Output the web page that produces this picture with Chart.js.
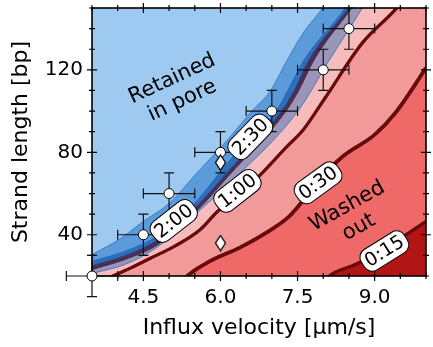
<!DOCTYPE html>
<html>
<head>
<meta charset="utf-8">
<script src="https://cdn.jsdelivr.net/npm/chart.js@4.4.0/dist/chart.umd.min.js"></script>
<style>
  html, body { margin: 0; padding: 0; background: #fff; }
</style>
</head>
<body>
<canvas id="flow" width="433" height="347"></canvas>
<script>
// measured retention limits
const velocity = [3.5, 4.5, 5.0, 6.0, 7.0, 8.0, 8.5];
const strandLen = [20, 40, 60, 80, 100, 120, 140];
const velErr = [0.5, 0.5, 0.5, 0.5, 0.5, 0.5, 0.5];
const lenErr = [10, 10, 10, 10, 10, 10, 10];

// single runs
const runVelocity = [6.0, 6.0];
const runLen = [75, 36];

// residence-time contour boundaries (velocity, length)
const retainX = [3.0, 3.5, 4.02, 4.49, 5.01, 5.56, 6.14, 6.61, 6.96, 7.28, 7.61, 7.99, 8.4, 12];
const retainY = [22, 30.3, 37.6, 46.3, 55.4, 70.5, 86.1, 100, 109.4, 123.8, 137.9, 150, 165, 300];
const blueX = [3.0, 3.5, 4.13, 4.78, 5.56, 6.14, 7.09, 7.32, 7.63, 8.43, 8.8, 12];
const blueY = [21, 26.9, 31.8, 39.5, 57.0, 74.9, 100.1, 110.3, 124.8, 150.1, 165, 300];
const darkX = [3.0, 3.5, 4.13, 4.78, 5.56, 6.14, 7.19, 7.44, 7.72, 8.49, 8.9, 12];
const darkY = [20, 25.0, 29.8, 37.6, 54.5, 70.5, 100.1, 110.3, 124.8, 150.1, 165, 300];
const plumX = [3.0, 3.5, 4.13, 4.78, 5.56, 6.14, 7.28, 7.53, 7.82, 8.56, 9.0, 12];
const plumY = [18, 23.0, 27.9, 35.2, 52.1, 68.1, 100.1, 110.3, 124.8, 150.1, 165, 300];
const greyX = [3.0, 3.5, 4.13, 4.78, 5.56, 6.14, 7.51, 8.1, 8.76, 9.1, 12];
const greyY = [16, 21.1, 25.5, 34.2, 51.1, 64.2, 100.1, 124, 150.1, 165, 300];
const hourX = [3.6, 3.88, 4.26, 4.65, 5.09, 5.60, 5.93, 6.65, 7.29, 7.61, 8.05, 8.76, 9.43, 9.8, 12];
const hourY = [15, 19.6, 24, 28.8, 34.2, 42.4, 51, 66, 82.7, 90.9, 106.9, 133, 150, 162, 300];
const halfX = [5.0, 5.28, 5.74, 6.37, 6.89, 7.33, 7.62, 7.85, 8.37, 9.0, 9.4, 10.0, 10.5];
const halfY = [8, 18.2, 26.4, 33.7, 41, 48.7, 57, 64.5, 77.8, 88.5, 99, 121, 141];
const quarterX = [7.8, 8.09, 8.62, 9.20, 9.64, 10.0, 10.5];
const quarterY = [10, 19.5, 25.5, 33.5, 40.5, 46.5, 55];

const xTickLabels = [4.5, 6.0, 7.5, 9.0];
const yTickLabels = [40, 80, 120];

const zip = (xs, ys) => xs.map((x, i) => ({x: x, y: ys[i]}));

// each boundary fills everything below/right of it
const bands = [
  {xs: retainX, ys: retainY, fill: '#5b9bd9', line: '#3b7dd0', w: 1, dbl: false},
  {xs: blueX, ys: blueY, fill: '#2f6dbd', line: '#2463b5', w: 1, dbl: false},
  {xs: darkX, ys: darkY, fill: '#4b2d52', line: '#24508f', w: 1, dbl: false},
  {xs: plumX, ys: plumY, fill: '#9b95b7', line: '#4b2d52', w: 1, dbl: false},
  {xs: greyX, ys: greyY, fill: '#f6bbbb', line: '#3d7bc9', w: 1, dbl: false},
  {xs: hourX, ys: hourY, fill: '#f29a9a', line: '#6a0a0a', w: 3, dbl: true},
  {xs: halfX, ys: halfY, fill: '#ef6969', line: '#6a0a0a', w: 3.5, dbl: true},
  {xs: quarterX, ys: quarterY, fill: '#b31515', line: '#6a0a0a', w: 3, dbl: true}
];

const tags = [
  {text: '2:30', x: 6.58, y: 87.5, angle: -46},
  {text: '2:00', x: 5.09, y: 46.7, angle: -38},
  {text: '1:00', x: 6.33, y: 61.3, angle: -38},
  {text: '0:30', x: 7.90, y: 65.2, angle: -36},
  {text: '0:15', x: 9.19, y: 32.1, angle: -32}
];
const notes = [
  {lines: ['Retained', 'in pore'], x: 5.16, y: 110.3, angle: -25},
  {lines: ['Washed', 'out'], x: 8.58, y: 48.7, angle: -29}
];

const FONT = '"DejaVu Sans"';

const regionSets = bands.map((b, i) => ({
  type: 'line',
  data: zip(b.xs, b.ys),
  borderColor: b.line,
  borderWidth: b.w,
  backgroundColor: b.fill,
  fill: 'start',
  pointRadius: 0,
  cubicInterpolationMode: 'monotone',
  clip: 0,
  order: 100 - i
}));

// thin diamond marker
const diamond = document.createElement('canvas');
diamond.width = 13;
diamond.height = 17;
const dc = diamond.getContext('2d');
dc.beginPath();
dc.moveTo(6.5, 1);
dc.lineTo(11.5, 8.5);
dc.lineTo(6.5, 16);
dc.lineTo(1.5, 8.5);
dc.closePath();
dc.fillStyle = '#fff';
dc.fill();
dc.lineWidth = 1.3;
dc.strokeStyle = '#000';
dc.stroke();

const POINTS = bands.length;

const pointSet = {
  type: 'line',
  showLine: false,
  data: zip(velocity, strandLen),
  pointStyle: 'circle',
  pointRadius: 5,
  pointBackgroundColor: '#fff',
  pointBorderColor: '#000',
  pointBorderWidth: 1,
  clip: false,
  order: 1
};

const runSet = {
  type: 'line',
  showLine: false,
  data: zip(runVelocity, runLen),
  pointStyle: diamond,
  pointRadius: 6,
  clip: false,
  order: 0
};

function drawErrorBars(chart) {
  const {ctx, scales: {x, y}} = chart;
  ctx.save();
  ctx.strokeStyle = '#111';
  ctx.lineWidth = 1.2;
  velocity.forEach((v, i) => {
    const px = x.getPixelForValue(v);
    const py = y.getPixelForValue(strandLen[i]);
    const x0 = x.getPixelForValue(v - velErr[i]);
    const x1 = x.getPixelForValue(v + velErr[i]);
    const y0 = y.getPixelForValue(strandLen[i] - lenErr[i]);
    const y1 = y.getPixelForValue(strandLen[i] + lenErr[i]);
    ctx.beginPath();
    ctx.moveTo(x0, py); ctx.lineTo(x1, py);
    ctx.moveTo(px, y0); ctx.lineTo(px, y1);
    ctx.moveTo(x0, py - 5); ctx.lineTo(x0, py + 5);
    ctx.moveTo(x1, py - 5); ctx.lineTo(x1, py + 5);
    ctx.moveTo(px - 5, y0); ctx.lineTo(px + 5, y0);
    ctx.moveTo(px - 5, y1); ctx.lineTo(px + 5, y1);
    ctx.stroke();
  });
  ctx.restore();
}

// a faint seam down the middle of the dark contour lines
function drawSeams(chart) {
  const {ctx, chartArea: a} = chart;
  ctx.save();
  ctx.beginPath();
  ctx.rect(a.left, a.top, a.right - a.left, a.bottom - a.top);
  ctx.clip();
  bands.forEach((b, i) => {
    if (!b.dbl) return;
    const meta = chart.getDatasetMeta(i);
    ctx.strokeStyle = 'rgba(200,90,90,0.55)';
    ctx.lineWidth = 0.8;
    meta.dataset.draw(ctx, a);
  });
  ctx.restore();
}

function drawNotes(chart) {
  const {ctx, scales: {x, y}} = chart;
  ctx.save();
  ctx.textAlign = 'center';
  ctx.textBaseline = 'middle';
  tags.forEach(t => {
    ctx.save();
    ctx.translate(x.getPixelForValue(t.x), y.getPixelForValue(t.y));
    ctx.rotate(t.angle * Math.PI / 180);
    ctx.font = '19px ' + FONT;
    const w = ctx.measureText(t.text).width + 8;
    const h = 24;
    ctx.beginPath();
    ctx.roundRect(-w / 2, -h / 2, w, h, 9);
    ctx.fillStyle = '#fff';
    ctx.fill();
    ctx.lineWidth = 1;
    ctx.strokeStyle = '#000';
    ctx.stroke();
    ctx.fillStyle = '#000';
    ctx.fillText(t.text, 0, 1);
    ctx.restore();
  });
  ctx.font = '21px ' + FONT;
  ctx.fillStyle = '#000';
  notes.forEach(n => {
    ctx.save();
    ctx.translate(x.getPixelForValue(n.x), y.getPixelForValue(n.y));
    ctx.rotate(n.angle * Math.PI / 180);
    const lh = 24;
    n.lines.forEach((s, i) => {
      ctx.fillText(s, 0, (i - (n.lines.length - 1) / 2) * lh);
    });
    ctx.restore();
  });
  ctx.restore();
}

// frame with ticks crossing the spines
function drawFrame(chart) {
  const {ctx, chartArea: a, scales: {x, y}} = chart;
  ctx.save();
  ctx.strokeStyle = '#000';
  ctx.lineWidth = 1.6;
  ctx.strokeRect(a.left, a.top, a.right - a.left, a.bottom - a.top);
  ctx.lineWidth = 1.2;
  ctx.beginPath();
  x.ticks.forEach(t => {
    const p = x.getPixelForValue(t.value);
    const h = t.label ? 5 : 3;
    ctx.moveTo(p, a.bottom - h); ctx.lineTo(p, a.bottom + h);
    ctx.moveTo(p, a.top - h); ctx.lineTo(p, a.top + h);
  });
  y.ticks.forEach(t => {
    const p = y.getPixelForValue(t.value);
    const h = t.label ? 5 : 3;
    ctx.moveTo(a.left - h, p); ctx.lineTo(a.left + h, p);
    ctx.moveTo(a.right - h, p); ctx.lineTo(a.right + h, p);
  });
  ctx.stroke();
  ctx.restore();
}

const decor = {
  id: 'decor',
  beforeDatasetsDraw(chart) {
    const {ctx, chartArea: a} = chart;
    ctx.save();
    ctx.fillStyle = '#9ecaf1';
    ctx.fillRect(a.left, a.top, a.right - a.left, a.bottom - a.top);
    ctx.restore();
  },
  beforeDatasetDraw(chart, args) {
    if (args.index !== POINTS) return;
    drawSeams(chart);
    drawFrame(chart);
    drawErrorBars(chart);
    drawNotes(chart);
  }
};

new Chart(document.getElementById('flow'), {
  type: 'line',
  data: {datasets: [...regionSets, pointSet, runSet]},
  options: {
    responsive: false,
    animation: false,
    devicePixelRatio: 1,
    layout: {padding: {top: 8, right: 1, left: 0, bottom: 0}},
    plugins: {legend: {display: false}, tooltip: {enabled: false}},
    scales: {
      x: {
        type: 'linear', min: 3.5, max: 10,
        grid: {display: false, drawTicks: false},
        border: {display: false},
        ticks: {
          stepSize: 0.5, autoSkip: false, maxRotation: 0, padding: 10, color: '#000',
          font: {family: 'DejaVu Sans', size: 20},
          callback: v => xTickLabels.some(t => Math.abs(t - v) < 1e-6) ? v.toFixed(1) : ''
        },
        title: {
          display: true, text: 'Influx velocity [μm/s]', color: '#000',
          font: {family: 'DejaVu Sans', size: 22}, padding: {top: 0, bottom: 6}
        },
        afterFit: s => { s.height = 71; s.paddingLeft = 0; s.paddingRight = 0; }
      },
      y: {
        type: 'linear', min: 20, max: 150,
        grid: {display: false, drawTicks: false},
        border: {display: false},
        ticks: {
          stepSize: 10, autoSkip: false, padding: 9, color: '#000',
          font: {family: 'DejaVu Sans', size: 20},
          callback: v => yTickLabels.includes(v) ? String(v) : ''
        },
        title: {
          display: true, text: 'Strand length [bp]', color: '#000',
          font: {family: 'DejaVu Sans', size: 22}, padding: {top: 8, bottom: 0}
        },
        afterFit: s => { s.width = 92; s.paddingTop = 0; s.paddingBottom = 0; }
      }
    }
  },
  plugins: [decor]
});
</script>
</body>
</html>
